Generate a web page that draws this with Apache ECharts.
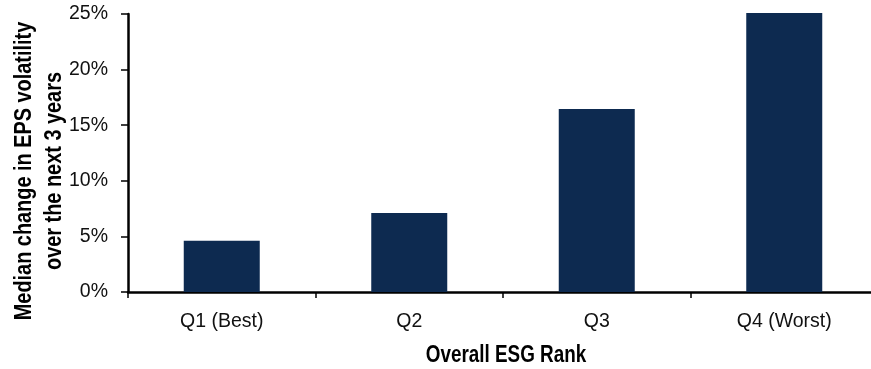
<!DOCTYPE html>
<html>
<head>
<meta charset="utf-8">
<script src="https://cdn.jsdelivr.net/npm/echarts@6/dist/echarts.min.js"></script>
<style>
html,body{margin:0;padding:0;background:#fff;}
#chart{width:871px;height:369px;}
</style>
</head>
<body>
<div id="chart"></div>
<script>
var categories = ['Q1 (Best)', 'Q2', 'Q3', 'Q4 (Worst)'];
var values = [4.6, 7.1, 16.45, 25.1];
var yTicks = [0, 5, 10, 15, 20, 25];
var yTitleLines = ['Median change in EPS volatility', 'over the next 3 years'];
var xTitle = 'Overall ESG Rank';

var FONT = '"Liberation Sans", Arial, sans-serif';
var chart = echarts.init(document.getElementById('chart'));
chart.setOption({
  animation: false,
  backgroundColor: '#ffffff',
  grid: { left: 128, top: 14, right: -7, bottom: 77, containLabel: false, outerBoundsMode: 'none' },
  xAxis: {
    type: 'category',
    data: categories,
    axisLine: { lineStyle: { color: '#000', width: 2.5 } },
    axisTick: { show: true, length: 6, lineStyle: { color: '#000', width: 1.5 } },
    axisLabel: { color: '#111', fontFamily: FONT, fontSize: 19.5, margin: 20 }
  },
  yAxis: {
    type: 'value',
    min: yTicks[0],
    max: yTicks[yTicks.length - 1],
    interval: 5,
    splitLine: { show: false },
    axisLine: { show: true, lineStyle: { color: '#000', width: 2.5 } },
    axisTick: { show: true, length: 7, lineStyle: { color: '#000', width: 1.5 } },
    axisLabel: { color: '#111', fontFamily: FONT, fontSize: 19.5, margin: 20,
      formatter: function (v) { return v + '%'; } }
  },
  graphic: [{
    type: 'text',
    x: 40,
    y: 171,
    rotation: Math.PI / 2,
    scaleX: 0.865,
    style: {
      text: yTitleLines.join('\n'),
      fill: '#000',
      font: 'bold 23px ' + FONT,
      lineHeight: 30,
      align: 'center',
      verticalAlign: 'middle'
    }
  }, {
    type: 'text',
    x: 506,
    y: 356,
    scaleX: 0.82,
    style: {
      text: xTitle,
      fill: '#000',
      font: 'bold 23px ' + FONT,
      align: 'center',
      verticalAlign: 'middle'
    }
  }],
  series: [{
    type: 'bar',
    data: values,
    barWidth: 76,
    clip: false,
    itemStyle: { color: '#0D2A50' }
  }]
});
</script>
</body>
</html>
